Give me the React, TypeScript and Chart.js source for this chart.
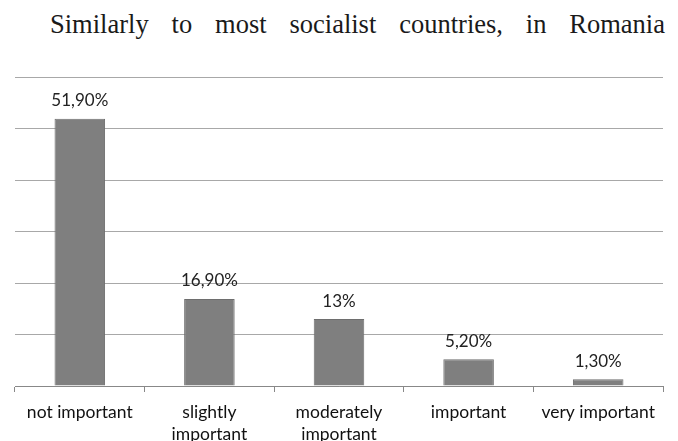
import React, { useEffect, useRef } from "react";
import { Chart, registerables } from "chart.js";

Chart.register(...registerables);

const categories: (string | string[])[] = [
  "not important",
  ["slightly", "important"],
  ["moderately", "important"],
  "important",
  "very important",
];
const values: number[] = [51.9, 16.9, 13, 5.2, 1.3];
const valueLabels: string[] = ["51,90%", "16,90%", "13%", "5,20%", "1,30%"];
const yMax = 60;
const yStep = 10;
const headingText = "Similarly to most socialist countries, in Romania";

const FONT = "Lato, 'Open Sans', sans-serif";

const valueLabelPlugin = {
  id: "valueLabels",
  afterDatasetsDraw(chart: any) {
    const ctx = chart.ctx;
    const meta = chart.getDatasetMeta(0);
    ctx.save();
    ctx.font = `17px ${FONT}`;
    ctx.fillStyle = "#222";
    ctx.textAlign = "center";
    ctx.textBaseline = "middle";
    meta.data.forEach((bar: any, i: number) => {
      ctx.fillText(valueLabels[i], bar.x, bar.y - 18);
    });
    ctx.restore();
  },
};

export default function App() {
  const ref = useRef<HTMLCanvasElement | null>(null);
  useEffect(() => {
    if (!ref.current) return;
    const chart = new Chart(ref.current, {
      type: "bar",
      data: {
        labels: categories,
        datasets: [
          {
            data: values,
            backgroundColor: "#7f7f7f",
            borderColor: "#6e6e6e",
            borderWidth: 1,
            barPercentage: 0.39,
            categoryPercentage: 1,
          },
        ],
      },
      options: {
        responsive: false,
        animation: false,
        layout: { padding: { left: 15, right: 15, top: 77, bottom: 0 } },
        plugins: { legend: { display: false }, tooltip: { enabled: false }, title: { display: false } },
        scales: {
          x: {
            offset: true,
            afterFit: (scale: any) => {
              scale.height = 55;
            },
            grid: {
              offset: true,
              drawOnChartArea: false,
              drawTicks: true,
              tickLength: 6,
              color: "#888",
            },
            border: { display: true, color: "#888", width: 1 },
            ticks: {
              color: "#111",
              font: { family: FONT, size: 17.5, lineHeight: 1.22 },
              padding: 10,
              maxRotation: 0,
              autoSkip: false,
            },
          },
          y: {
            min: 0,
            max: yMax,
            ticks: { display: false, stepSize: yStep },
            grid: { color: "#a8a8a8", lineWidth: 1, drawTicks: false },
            border: { display: false },
          },
        },
      },
      plugins: [valueLabelPlugin],
    });
    return () => chart.destroy();
  }, []);
  return (
    <div style={{ position: "absolute", left: 0, top: 0, width: 678, height: 441, background: "#fff", overflow: "hidden" }}>
      <div
        style={{
          position: "absolute",
          left: 50,
          top: 8,
          width: 615,
          fontFamily: "'Liberation Serif', 'DejaVu Serif', serif",
          fontSize: 26.5,
          lineHeight: "32px",
          color: "#1a1a1a",
          textAlign: "justify",
          textAlignLast: "justify",
          whiteSpace: "normal",
        }}
      >
        {headingText}
      </div>
      <canvas ref={ref} width={678} height={441} style={{ position: "absolute", left: 0, top: 0 }} />
    </div>
  );
}
